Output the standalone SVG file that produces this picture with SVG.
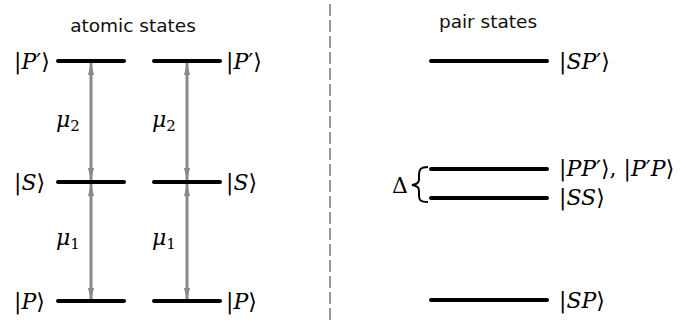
<svg xmlns="http://www.w3.org/2000/svg" width="696" height="323" viewBox="0 0 696 323">
<style>
.lvl{stroke:#000;stroke-width:4;stroke-linecap:round;fill:none}
.arr{stroke:#888;stroke-width:3;fill:none}
.m{font-family:"DejaVu Serif","Liberation Serif",serif;font-size:22px;fill:#000}
.i{font-style:italic}
.t{font-family:"DejaVu Sans",sans-serif;font-size:18.5px;fill:#111}
</style>
<defs>
<marker id="ah" viewBox="0 0 12 6" refX="12" refY="3" markerWidth="12" markerHeight="6" markerUnits="userSpaceOnUse" orient="auto-start-reverse">
<path d="M0,0 L12,3 L0,6 Z" fill="#888"/>
</marker>
</defs>
<rect width="696" height="323" fill="#fff"/>
<line x1="330" y1="4" x2="330" y2="323" stroke="#999" stroke-width="2" stroke-dasharray="12,4"/>
<text class="t" x="133" y="32" text-anchor="middle">atomic states</text>
<text class="t" x="488" y="28" text-anchor="middle">pair states</text>
<g id="connectors">
<path class="arr" d="M91,63 L91,180" marker-start="url(#ah)" marker-end="url(#ah)"/>
<path class="arr" d="M91,184 L91,300" marker-start="url(#ah)" marker-end="url(#ah)"/>
<path class="arr" d="M187,63 L187,180" marker-start="url(#ah)" marker-end="url(#ah)"/>
<path class="arr" d="M187,184 L187,300" marker-start="url(#ah)" marker-end="url(#ah)"/>
</g>
<g id="atomA-Pp"><line class="lvl" x1="58" y1="61" x2="124" y2="61"/><text class="m" x="14" y="69">|<tspan class="i">P</tspan>′⟩</text></g>
<g id="atomA-S"><line class="lvl" x1="58" y1="182" x2="124" y2="182"/><text class="m" x="14" y="190">|<tspan class="i">S</tspan>⟩</text></g>
<g id="atomA-P"><line class="lvl" x1="58" y1="301" x2="124" y2="301"/><text class="m" x="14" y="309">|<tspan class="i">P</tspan>⟩</text></g>
<g id="atomB-Pp"><line class="lvl" x1="154" y1="61" x2="220" y2="61"/><text class="m" x="226" y="69">|<tspan class="i">P</tspan>′⟩</text></g>
<g id="atomB-S"><line class="lvl" x1="154" y1="182" x2="220" y2="182"/><text class="m" x="226" y="190">|<tspan class="i">S</tspan>⟩</text></g>
<g id="atomB-P"><line class="lvl" x1="154" y1="301" x2="220" y2="301"/><text class="m" x="226" y="309">|<tspan class="i">P</tspan>⟩</text></g>
<g id="mu-labels">
<text class="m i" x="56" y="127">μ<tspan font-style="normal" font-size="15" dy="4">2</tspan></text>
<text class="m i" x="152" y="127">μ<tspan font-style="normal" font-size="15" dy="4">2</tspan></text>
<text class="m i" x="56" y="245">μ<tspan font-style="normal" font-size="15" dy="4">1</tspan></text>
<text class="m i" x="152" y="245">μ<tspan font-style="normal" font-size="15" dy="4">1</tspan></text>
</g>
<g id="pair-SPp"><line class="lvl" x1="431" y1="61" x2="547" y2="61"/><text class="m" x="559" y="69">|<tspan class="i">SP</tspan>′⟩</text></g>
<g id="pair-PPp"><line class="lvl" x1="431" y1="169" x2="547" y2="169"/><text class="m" x="559" y="176">|<tspan class="i">PP</tspan>′⟩, |<tspan class="i">P</tspan>′<tspan class="i">P</tspan>⟩</text></g>
<g id="pair-SS"><line class="lvl" x1="431" y1="198" x2="547" y2="198"/><text class="m" x="559" y="205">|<tspan class="i">SS</tspan>⟩</text></g>
<g id="pair-SP"><line class="lvl" x1="431" y1="300" x2="547" y2="300"/><text class="m" x="559" y="308">|<tspan class="i">SP</tspan>⟩</text></g>
<g id="delta">
<text class="m" x="392" y="193" font-size="23">Δ</text>
<path d="M428,167 C420,167 419,170 419,175 L419,179 C419,183 417,184 412,185 C417,186 419,187 419,191 L419,195 C419,200 420,202 428,202" fill="none" stroke="#000" stroke-width="2"/>
</g>
</svg>
